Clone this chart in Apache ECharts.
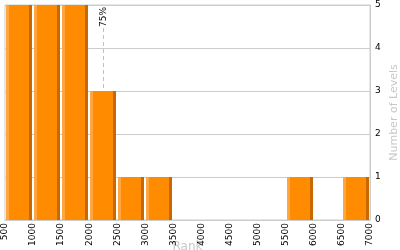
<!DOCTYPE html>
<html><head><meta charset="utf-8">
<script src="https://cdn.jsdelivr.net/npm/echarts@6/dist/echarts.min.js"></script>
<style>html,body{margin:0;padding:0;background:#fff}#c{width:400px;height:250px}</style>
</head><body><div id="c"></div>
<script>
var binStarts = [500, 1000, 1500, 2000, 2500, 3000, 5500, 6500];
var binWidth = 500;
var levelCounts = [5, 5, 5, 3, 1, 1, 1, 1];
var xTicks = [500, 7000, 500]; // min, max, interval
var yTicks = [0, 5, 1];
var percentileRank = 2250;
var percentileCount = 3;
var percentileLabel = '75%';
var xName = 'Rank';
var yName = 'Number of Levels';

var barData = binStarts.map(function (s, i) { return [s, s + binWidth, levelCounts[i]]; });

var chart = echarts.init(document.getElementById('c'), null, {renderer: 'canvas'});
var font = 'DejaVu Sans';
chart.setOption({
  animation: false,
  grid: {left: 5, right: 30, top: 5, bottom: 30, containLabel: false, outerBoundsMode: 'none',
         show: true, borderColor: '#cccccc', borderWidth: 1},
  xAxis: {
    type: 'value', min: xTicks[0], max: xTicks[1], interval: xTicks[2],
    name: xName, nameLocation: 'middle', nameGap: 21, nameMoveOverlap: false,
    nameTextStyle: {color: '#c8c8c8', fontFamily: font, fontSize: 12},
    axisLine: {show: true, lineStyle: {color: '#cccccc'}},
    axisTick: {show: false},
    splitLine: {show: false},
    axisLabel: {rotate: 90, color: '#000', fontFamily: font, fontSize: 9, margin: 3,
                showMinLabel: true, showMaxLabel: true, hideOverlap: false,
                formatter: function (v) { return String(v); }}
  },
  yAxis: {
    type: 'value', position: 'right', min: yTicks[0], max: yTicks[1], interval: yTicks[2],
    name: yName, nameLocation: 'middle', nameGap: 19, nameRotate: 90, nameMoveOverlap: false,
    nameTextStyle: {color: '#c8c8c8', fontFamily: font, fontSize: 11},
    axisLine: {show: true, lineStyle: {color: '#cccccc'}},
    axisTick: {show: false},
    splitLine: {show: true, lineStyle: {color: '#cccccc'}},
    axisLabel: {color: '#000', fontFamily: font, fontSize: 9, margin: 5}
  },
  series: [{
    type: 'custom',
    data: barData,
    encode: {x: [0, 1], y: 2},
    renderItem: function (params, api) {
      var p0 = api.coord([api.value(0), api.value(2)]);
      var p1 = api.coord([api.value(1), 0]);
      var x0 = Math.round(p0[0]) + 1, x1 = Math.round(p1[0]) - 1;
      var y0 = Math.round(p0[1]), y1 = Math.round(p1[1]);
      var w = x1 - x0, h = y1 - y0;
      return {type: 'group', children: [
        {type: 'rect', shape: {x: x0, y: y0, width: w, height: h}, style: {fill: '#ff8c00'}},
        {type: 'rect', shape: {x: x0, y: y0, width: 3, height: h}, style: {fill: '#ffa640'}},
        {type: 'rect', shape: {x: x1 - 3, y: y0, width: 3, height: h}, style: {fill: '#c86800'}}
      ]};
    },
    z: 2
  }, {
    type: 'custom',
    data: [[percentileRank, percentileCount, percentileLabel]],
    encode: {x: 0, y: 1},
    renderItem: function (params, api) {
      var pb = api.coord([api.value(0), api.value(1)]);
      var pt = api.coord([api.value(0), yTicks[1]]);
      var x = Math.round(pb[0]) + 0.5;
      return {type: 'group', children: [
        {type: 'line', shape: {x1: x, y1: pt[1] + 23, x2: x, y2: pb[1]},
         style: {stroke: '#c0c0c0', lineWidth: 1, lineDash: [4, 3]}},
        {type: 'text', x: x, y: pt[1] + 12, rotation: Math.PI / 2,
         style: {text: percentileLabel, fill: '#000', font: '9px "DejaVu Sans"', align: 'center', verticalAlign: 'middle'}}
      ]};
    },
    z: 3
  }]
});
</script></body></html>
